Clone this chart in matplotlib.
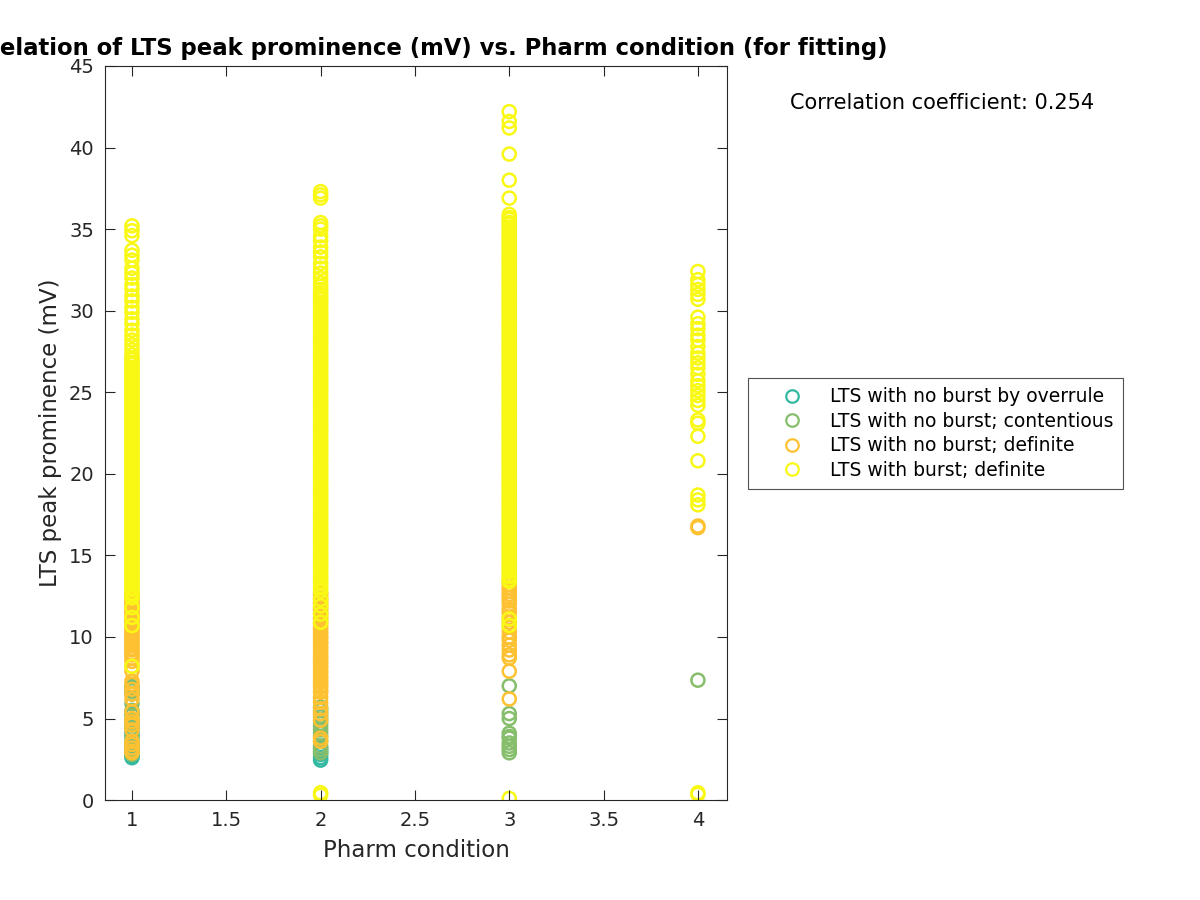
# LTS peak prominence vs pharm condition, scatter by burst class
import numpy as np
import matplotlib
matplotlib.use("Agg")
import matplotlib.pyplot as plt
from matplotlib.lines import Line2D

plt.rcParams['font.family'] = ['DejaVu Sans']

# values, one list per condition and class (mV)
c1_overrule = [2.6, 2.7, 2.9, 3.1, 3.3, 3.6, 3.9, 4.1, 4.6, 5.3, 6.9]
c1_contentious = [7.0, 6.7, 6.5, 5.9, 5.5, 5.2, 4.9, 4.4, 3.9, 3.5, 3.1, 2.8]
c1_nodef = [12.6, 12.5, 12.3, 12.2, 12.0, 11.9, 11.7, 11.6, 11.4, 11.3, 11.1, 11.0,
            10.8, 10.7, 10.5, 10.4, 10.2, 10.1, 9.9, 9.8, 9.6, 9.5, 9.3, 9.2, 9.0,
            8.9, 8.7, 8.5, 8.2, 7.9, 7.3, 7.1, 6.8, 6.5, 6.2, 5.4, 5.0, 4.8, 4.6,
            4.3, 3.6, 3.4, 3.2, 3.0, 2.9]
c1_burst = [35.2, 34.9, 34.6, 33.7, 33.4, 33.1, 32.6, 32.3, 32.0, 31.6, 31.3, 30.9,
            30.6, 30.2, 29.9, 29.5, 29.2, 28.8, 28.5, 28.2, 27.9, 27.6, 27.3,
            27.1, 27.0, 26.8, 26.7, 26.5, 26.4, 26.2, 26.1, 25.9, 25.8, 25.6, 25.5,
            25.3, 25.2, 25.0, 24.9, 24.7, 24.6, 24.4, 24.3, 24.1, 24.0, 23.8, 23.7,
            23.5, 23.4, 23.2, 23.1, 22.9, 22.8, 22.6, 22.5, 22.3, 22.2, 22.0, 21.9,
            21.7, 21.6, 21.4, 21.3, 21.1, 21.0, 20.8, 20.7, 20.5, 20.4, 20.2, 20.1,
            19.9, 19.8, 19.6, 19.5, 19.3, 19.2, 19.0, 18.9, 18.7, 18.6, 18.4, 18.3,
            18.1, 18.0, 17.8, 17.7, 17.5, 17.4, 17.2, 17.1, 16.9, 16.8, 16.6, 16.5,
            16.3, 16.2, 16.0, 15.9, 15.7, 15.6, 15.4, 15.3, 15.1, 15.0, 14.8, 14.7,
            14.5, 14.4, 14.2, 14.1, 13.9, 13.8, 13.6, 13.5, 13.3, 13.2, 13.0, 12.9,
            12.7, 12.6, 12.4, 11.8, 11.2, 10.7, 8.2]

c2_overrule = [2.45, 2.6, 2.8, 3.0, 3.2]
c2_contentious = [5.7, 5.5, 5.3, 5.1, 4.9, 4.7, 4.5, 4.3, 4.1, 3.9, 3.6, 3.3, 3.1, 2.9]
c2_nodef = [12.7, 12.6, 12.4, 12.3, 12.1, 12.0, 11.8, 11.7, 11.5, 11.4, 11.2, 11.1,
            10.9, 10.8, 10.6, 10.5, 10.3, 10.2, 10.0, 9.9, 9.7, 9.6, 9.4, 9.3, 9.1,
            9.0, 8.8, 8.7, 8.5, 8.4, 8.2, 8.1, 7.9, 7.8, 7.6, 7.5, 7.3, 7.2, 7.0,
            6.9, 6.7, 6.6, 6.3, 6.0, 5.6, 5.3, 4.9, 3.8, 3.6]
c2_burst = [37.3, 37.1, 36.9, 35.4, 35.2, 35.0, 34.6, 34.3, 33.9, 33.6, 33.3, 32.9,
            32.6, 32.3, 32.0, 31.7, 31.5, 31.3,
            31.1, 31.0, 30.8, 30.7, 30.5, 30.4, 30.2, 30.1, 29.9, 29.8, 29.6, 29.5,
            29.3, 29.2, 29.0, 28.9, 28.7, 28.6, 28.4, 28.3, 28.1, 28.0, 27.8, 27.7,
            27.5, 27.4, 27.2, 27.1, 26.9, 26.8, 26.6, 26.5, 26.3, 26.2, 26.0, 25.9,
            25.7, 25.6, 25.4, 25.3, 25.1, 25.0, 24.8, 24.7, 24.5, 24.4, 24.2, 24.1,
            23.9, 23.8, 23.6, 23.5, 23.3, 23.2, 23.0, 22.9, 22.7, 22.6, 22.4, 22.3,
            22.1, 22.0, 21.8, 21.7, 21.5, 21.4, 21.2, 21.1, 20.9, 20.8, 20.6, 20.5,
            20.3, 20.2, 20.0, 19.9, 19.7, 19.6, 19.4, 19.3, 19.1, 19.0, 18.8, 18.7,
            18.5, 18.4, 18.2, 18.1, 17.9, 17.8, 17.6, 17.5, 17.3, 17.2, 17.0, 16.9,
            16.7, 16.6, 16.4, 16.3, 16.1, 16.0, 15.8, 15.7, 15.5, 15.4, 15.2, 15.1,
            14.9, 14.8, 14.6, 14.5, 14.3, 14.2, 14.0, 13.9, 13.7, 13.6, 13.4, 13.3,
            13.1, 13.0, 12.8, 12.3, 11.9, 11.4, 10.9, 0.45, 0.3]

c3_contentious = [7.0, 5.3, 5.0, 4.1, 3.9, 3.8, 3.5, 3.3, 3.1, 2.9]
c3_nodef = [13.4, 13.2, 13.0, 12.8, 12.6, 12.4, 12.2, 12.0, 11.7, 11.5, 11.2, 10.9,
            10.6, 10.3, 10.0, 9.8, 9.5, 9.2, 8.9, 8.7, 7.9, 6.2]
c3_burst = [42.2, 41.6, 41.2, 39.6, 38.0, 36.9,
            35.9, 35.7, 35.6, 35.4, 35.3, 35.1, 35.0, 34.8, 34.7, 34.5, 34.4, 34.2,
            34.1, 33.9, 33.8, 33.6, 33.5, 33.3, 33.2, 33.0, 32.9, 32.7, 32.6, 32.4,
            32.3, 32.1, 32.0, 31.8, 31.7, 31.5, 31.4, 31.2, 31.1, 30.9, 30.8, 30.6,
            30.5, 30.3, 30.2, 30.0, 29.9, 29.7, 29.6, 29.4, 29.3, 29.1, 29.0, 28.8,
            28.7, 28.5, 28.4, 28.2, 28.1, 27.9, 27.8, 27.6, 27.5, 27.3, 27.2, 27.0,
            26.9, 26.7, 26.6, 26.4, 26.3, 26.1, 26.0, 25.8, 25.7, 25.5, 25.4, 25.2,
            25.1, 24.9, 24.8, 24.6, 24.5, 24.3, 24.2, 24.0, 23.9, 23.7, 23.6, 23.4,
            23.3, 23.1, 23.0, 22.8, 22.7, 22.5, 22.4, 22.2, 22.1, 21.9, 21.8, 21.6,
            21.5, 21.3, 21.2, 21.0, 20.9, 20.7, 20.6, 20.4, 20.3, 20.1, 20.0, 19.8,
            19.7, 19.5, 19.4, 19.2, 19.1, 18.9, 18.8, 18.6, 18.5, 18.3, 18.2, 18.0,
            17.9, 17.7, 17.6, 17.4, 17.3, 17.1, 17.0, 16.8, 16.7, 16.5, 16.4, 16.2,
            16.1, 15.9, 15.8, 15.6, 15.5, 15.3, 15.2, 15.0, 14.9, 14.7, 14.6, 14.4,
            14.3, 14.1, 14.0, 13.8, 13.7, 13.5, 13.4, 11.1, 10.7, 0.1]

c4_contentious = [7.35]
c4_nodef = [16.8, 16.7]
c4_burst = [32.4, 31.9, 31.6, 31.3, 31.0, 30.7, 29.6, 29.2, 28.9, 28.5, 28.2, 27.8,
            27.4, 27.1, 26.8, 26.5, 26.1, 25.7, 25.4, 25.1, 24.8, 24.5, 24.2, 23.3,
            23.1, 22.3, 20.8, 18.7, 18.4, 18.1, 0.45, 0.35]

labels = ["LTS with no burst by overrule", "LTS with no burst; contentious",
          "LTS with no burst; definite", "LTS with burst; definite"]
colors = ["#33b8a1", "#86be6c", "#fec131", "#f9f814"]
corr_coef = 0.254

groups = [
    {1: c1_overrule, 2: c2_overrule},
    {1: c1_contentious, 2: c2_contentious, 3: c3_contentious, 4: c4_contentious},
    {1: c1_nodef, 2: c2_nodef, 3: c3_nodef, 4: c4_nodef},
    {1: c1_burst, 2: c2_burst, 3: c3_burst, 4: c4_burst},
]

fig = plt.figure(figsize=(12, 9), dpi=100)
ax = fig.add_axes([0.0875, 0.111, 0.5183, 0.8157])

for grp, col in zip(groups, colors):
    for cond, vals in grp.items():
        ax.scatter(np.full(len(vals), cond), vals, s=88, facecolors='none',
                   edgecolors=col, linewidths=1.8)

ax.set_xlim(0.857, 4.154)
ax.set_ylim(0, 45)
ax.set_xticks(np.arange(1, 4.01, 0.5))
ax.set_xticklabels(["1", "1.5", "2", "2.5", "3", "3.5", "4"])
ax.set_yticks(np.arange(0, 46, 5))
ax.tick_params(direction='in', length=7, width=0.8, top=True, right=True,
               labelsize=14, colors='#262626', pad=8)
for sp in ax.spines.values():
    sp.set_color('#262626')
    sp.set_linewidth(0.8)

ax.set_xlabel("Pharm condition", fontsize=16.5, color='#262626', labelpad=6)
ax.set_ylabel("LTS peak prominence (mV)", fontsize=16.5, color='#262626', labelpad=5)
ax.set_title("Correlation of LTS peak prominence (mV) vs. Pharm condition (for fitting)",
             fontsize=16.4, fontweight='bold', pad=8)

fig.text(790 / 1200, 1 - 103 / 900, "Correlation coefficient: %.3f" % corr_coef,
         fontsize=15, va='center', ha='left')

handles = [Line2D([], [], marker='o', linestyle='none', markersize=9,
                  markerfacecolor='none', markeredgecolor=c, markeredgewidth=1.6)
           for c in colors]
leg = fig.legend(handles, labels, loc='center left',
                 bbox_to_anchor=(748 / 1200, 1 - 433.5 / 900), fontsize=13.5,
                 frameon=True, fancybox=False, edgecolor='#262626',
                 handletextpad=0.2, borderpad=0.5, labelspacing=0.3,
                 borderaxespad=0, handlelength=3.7)
leg.get_frame().set_linewidth(0.8)

plt.savefig("out.png", dpi=100)
